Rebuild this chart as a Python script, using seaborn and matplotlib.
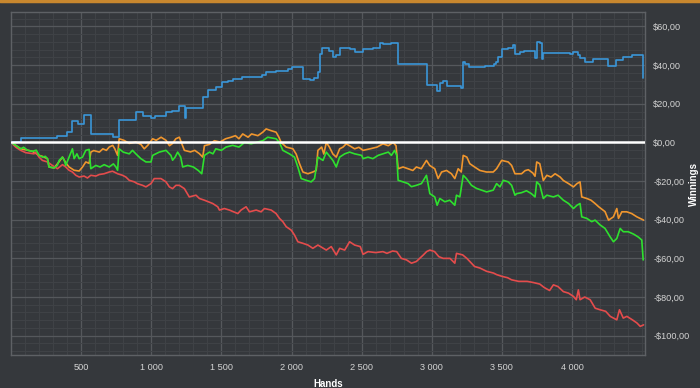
import pandas as pd
import numpy as np
import matplotlib
matplotlib.use('Agg')
import matplotlib.pyplot as plt
import matplotlib.ticker as mticker
import seaborn as sns

# values: hands played vs winnings ($)
blue_hands = [0, 69, 331, 400, 438, 480, 521, 569, 724, 767, 890, 940, 998, 1030, 1105, 1150, 1200, 1240, 1250,
              1367, 1402, 1460, 1505, 1550, 1581, 1650, 1748, 1790, 1820, 1890, 1974, 2000, 2081, 2130, 2160,
              2188, 2200, 2219, 2270, 2295, 2320, 2343, 2414, 2450, 2509, 2580, 2629, 2650, 2710, 2760, 2967,
              3038, 3057, 3080, 3105, 3205, 3219, 3240, 3267, 3379, 3440, 3460, 3474, 3498, 3540, 3581, 3593,
              3630, 3660, 3736, 3747, 3770, 3783, 3795, 3986, 4010, 4040, 4057, 4093, 4152, 4259, 4312, 4362,
              4400, 4426, 4497, 4509]
blue_vals = [0, 2.1, 3.4, 5.2, 11.2, 9.5, 14.3, 4.3, 2.9, 11.5, 15.6, 13.5, 12.9, 13.8, 15.9, 16.5, 18.9, 12.9, 17.8,
             23.4, 27.1, 28.5, 31.1, 32, 33, 34, 34, 35, 36.3, 36.8, 38, 38.8, 32.8, 32.3, 33.5,
             36.6, 45.7, 48.8, 47.5, 44, 45, 49.1, 48.3, 46.6, 48.3, 49.1, 51.7, 50.8, 51.7, 40.5, 29.7,
             26.8, 31, 31.8, 29.3, 28, 41.4, 40.5, 38.8, 39.7, 40.5, 41.4, 44.3, 48.6, 49.1, 50.3, 45.7,
             46.6, 47.5, 43.8, 52.2, 51.7, 43, 46.4, 45.8, 46.6, 45.5, 43.8, 41.4, 43.1, 39.7, 42.7, 44.3,
             44.0, 45.4, 45.4, 33.2]

orange_hands = [0, 33, 69, 117, 152, 200, 224, 260, 271, 307, 343, 367, 390, 414, 450, 486, 510, 533, 557, 569,
                590, 630, 655, 680, 700, 725, 740, 760, 771, 805, 843, 890, 926, 950, 975, 1010, 1035, 1070, 1105,
                1130, 1152, 1175, 1200, 1236, 1280, 1310, 1343, 1367, 1379, 1415, 1450, 1490, 1530, 1569, 1600,
                1625, 1652, 1690, 1715, 1760, 1795, 1819, 1850, 1890, 1910, 1926, 1962, 2010, 2033, 2057, 2081,
                2117, 2152, 2176, 2188, 2215, 2230, 2248, 2270, 2295, 2319, 2343, 2367, 2390, 2414, 2450, 2480,
                2510, 2560, 2610, 2652, 2690, 2724, 2745, 2760, 2795, 2831, 2865, 2890, 2925, 2962, 2985, 3021,
                3045, 3070, 3105, 3140, 3164, 3188, 3210, 3224, 3250, 3271, 3305, 3343, 3390, 3438, 3462, 3498,
                3545, 3569, 3593, 3640, 3665, 3688, 3720, 3736, 3748, 3770, 3795, 3820, 3850, 3879, 3915, 3938,
                3975, 4010, 4035, 4057, 4069, 4105, 4135, 4164, 4190, 4235, 4260, 4295, 4319, 4331, 4355, 4390,
                4425, 4462, 4485, 4510]
orange_vals = [0, -1.5, -3.3, -4.0, -4.6, -6.7, -7.2, -8.4, -12.7, -13.2, -10, -7.6, -10.5, -12.7, -14.4, -14.8,
               -12.7, -10.1, -10.8, -5.0, -4.2, -5.0, -3.3, -4.1, -2.4, -1.5, -3.3, -6.7, 1.9, 1.1, -0.5, 0.2,
               -1.0, -3.3, -1.5, 1.9, 1.1, 2.7, 1.1, -1.7, -0.5, 1.9, 2.7, -4.1, -4.9, -4.1, -5.8, -7.6, -1.7,
               -1.0, 0.9, 0.2, 1.9, 2.7, 3.5, 1.9, 4.4, 2.7, 4.4, 3.5, 5.3, 7.0, 6.2, 5.3, 2.7, 0, -2.4, -3.3,
               -6, -11, -15.3, -16.2, -15.3, -14.5, -4.1, -2.4, -6, 0, -2.4, -6, -7.6, -3.3, -2.4, -0.7, -1.7,
               -3.3, -2.5, -4.1, -3.3, -2.4, -0.7, -1.7, 0, -1.7, -13.6, -12.7, -13.6, -14.5, -12.7, -13.6, -9.3,
               -11.9, -13.6, -18.7, -15.3, -14.5, -16.2, -18.7, -13.6, -15.3, -6.7, -7.6, -11, -12.7, -14.5,
               -15.3, -15.3, -13.6, -9.3, -10.1, -11.9, -16.2, -16.2, -14.6, -14.1, -15.8, -17.5, -10.1, -11,
               -19.7, -17, -17.9, -16.2, -17.9, -19.7, -21.3, -23, -21.3, -20.4, -28.2, -29, -29.9, -31.6, -33.3,
               -35.8, -40.2, -38.5, -34.2, -39.3, -35.9, -35.9, -36.8, -38.5, -39.3, -40.2]

green_hands = [0, 33, 69, 90, 117, 152, 180, 200, 224, 245, 260, 271, 307, 330, 343, 367, 380, 390, 414, 438, 450,
               470, 486, 510, 533, 557, 569, 605, 635, 664, 700, 730, 748, 760, 771, 800, 843, 866, 890, 926, 962,
               998, 1010, 1057, 1105, 1140, 1152, 1170, 1188, 1210, 1224, 1260, 1300, 1335, 1360, 1379, 1415,
               1440, 1460, 1500, 1533, 1580, 1625, 1665, 1712, 1748, 1795, 1830, 1890, 1914, 1938, 1985, 2021,
               2045, 2069, 2105, 2140, 2164, 2188, 2224, 2248, 2295, 2319, 2343, 2379, 2414, 2450, 2500, 2510,
               2545, 2580, 2617, 2652, 2690, 2712, 2735, 2750, 2760, 2795, 2831, 2855, 2890, 2926, 2962, 2986,
               3021, 3038, 3057, 3093, 3128, 3164, 3176, 3200, 3224, 3247, 3283, 3319, 3355, 3391, 3438, 3462,
               3486, 3510, 3545, 3569, 3593, 3605, 3640, 3675, 3710, 3736, 3748, 3770, 3795, 3820, 3867, 3900,
               3938, 3975, 4010, 4035, 4057, 4069, 4105, 4140, 4164, 4200, 4235, 4271, 4295, 4319, 4343, 4365,
               4400, 4440, 4473, 4497, 4507]
green_vals = [0, -1.5, -3.3, -2.5, -4.0, -4.6, -4.0, -6.7, -7.6, -7.2, -8.4, -12.7, -13.2, -11.9, -9.3, -7.6, -9.3,
              -11.9, -7.6, -3.3, -8.4, -5.9, -8.4, -7.6, -4.1, -3.6, -13.6, -11.9, -12.7, -11.5, -12.7, -11.1,
              -12.7, -14.4, -3.3, -5.0, -5.9, -4.1, -5.9, -8.4, -10.1, -10.1, -6.7, -5.0, -4.1, -6.7, -9.2, -7.6,
              -5.0, -7.6, -12.7, -11.9, -12.7, -14.5, -16.2, -6.7, -5.0, -5.9, -3.3, -4.1, -2.4, -1.5, -2.4, 0,
              -0.7, 0, 0.9, 2.7, 1.9, 0, -4.1, -5.9, -7.6, -12.7, -18.7, -19.6, -20.4, -18.7, -7.6, -9.3, -5.0,
              -9.3, -12.7, -7.6, -5.9, -5.0, -5.9, -6.7, -8.4, -7.6, -8.4, -6.7, -5.9, -5.0, -6.7, -4.1, -6.7,
              -19.6, -20.4, -21.3, -22.9, -22.2, -21.3, -17, -26.5, -28.2, -32.5, -29, -30.7, -29.9, -32.5, -27.3,
              -28.2, -17, -18.7, -22.2, -23.8, -24.7, -25.6, -24.7, -21.3, -23, -19.6, -20.4, -22.2, -27.3, -26.5,
              -26, -25, -26.5, -28.2, -20.4, -22, -29, -27.3, -28.2, -27.3, -29.9, -31.6, -34.2, -32.5, -31.6,
              -38.5, -39.3, -41, -40.2, -42.7, -44.5, -48.8, -51.4, -49.7, -44.5, -46.2, -46.2, -47.5, -49,
              -50.5, -60.8]

red_hands = [0, 33, 69, 105, 164, 176, 200, 224, 260, 295, 331, 367, 390, 414, 438, 462, 486, 521, 545, 569, 605,
             629, 664, 700, 724, 760, 795, 819, 843, 879, 900, 938, 962, 998, 1021, 1069, 1105, 1129, 1152, 1176,
             1200, 1236, 1271, 1319, 1343, 1379, 1438, 1474, 1486, 1521, 1557, 1617, 1640, 1676, 1700, 1748,
             1783, 1807, 1855, 1890, 1914, 1938, 1962, 1998, 2021, 2045, 2081, 2117, 2152, 2188, 2248, 2283,
             2319, 2343, 2379, 2414, 2450, 2490, 2510, 2545, 2600, 2652, 2680, 2720, 2750, 2783, 2820, 2855,
             2890, 2915, 2940, 2963, 2986, 3020, 3050, 3081, 3130, 3164, 3176, 3220, 3250, 3271, 3305, 3343,
             3391, 3440, 3462, 3500, 3540, 3569, 3620, 3680, 3724, 3770, 3800, 3819, 3840, 3867, 3900, 3938,
             3975, 4010, 4030, 4045, 4057, 4090, 4129, 4165, 4200, 4240, 4272, 4319, 4338, 4365, 4391, 4430,
             4462, 4486, 4510]
red_vals = [0, -2.4, -4.1, -5.3, -5.9, -5.0, -7.6, -9.3, -10.1, -11.9, -13.6, -11.5, -12.7, -14.4, -15.3, -17,
            -17.9, -17.4, -18.4, -17, -17.4, -16.6, -16.2, -15.3, -14.9, -16.2, -17, -17.9, -19.6, -20.4, -21.3,
            -22.2, -23, -21.3, -18.7, -18.7, -20.4, -23, -23.9, -22.2, -22.2, -23.9, -28.2, -27.3, -29.0, -29.9,
            -31.6, -33.3, -35.0, -34.2, -35.0, -36.8, -35.0, -33.3, -35.9, -35.0, -35.9, -34.2, -35.0, -36.8,
            -39.3, -41.0, -43.6, -45.4, -47.9, -51.4, -52.2, -53.1, -54.8, -53.1, -55.7, -53.9, -58.2, -54.8,
            -55.7, -51.4, -53.1, -53.9, -57.9, -56.5, -57, -56.5, -57.4, -56.2, -56.5, -60, -60.8, -62.5, -61.6,
            -59.9, -58.2, -56.5, -55.7, -56.5, -59.1, -60, -60, -62.5, -57.4, -58.2, -60, -61.6, -64.2, -65,
            -66.7, -67.6, -68.4, -69.3, -70, -71.1, -71.9, -71.9, -72.5, -73.3, -75, -75.8, -76.6, -73.7, -74.6,
            -77.2, -78, -79.7, -81.4, -76.3, -81.4, -80, -81.4, -85.8, -86.6, -87.4, -90, -91.8, -86.6, -90.9,
            -90, -91.8, -93.4, -95.2, -94.4]

colors = {'blue': '#3a96d8', 'orange': '#f0962e', 'red': '#e44c4c', 'green': '#2ee02e'}

blue_df = pd.DataFrame({'hands': blue_hands, 'winnings': blue_vals, 'player': 'blue'})
others = pd.concat([
    pd.DataFrame({'hands': orange_hands, 'winnings': orange_vals, 'player': 'orange'}),
    pd.DataFrame({'hands': red_hands, 'winnings': red_vals, 'player': 'red'}),
    pd.DataFrame({'hands': green_hands, 'winnings': green_vals, 'player': 'green'}),
])

bg = '#35383c'
sns.set_style('dark', {'axes.facecolor': bg, 'figure.facecolor': bg})
plt.rcParams['font.family'] = ['Liberation Sans', 'DejaVu Sans']

fig = plt.figure(figsize=(7, 3.88), dpi=100)
ax = fig.add_axes([11 / 700, 33 / 388, 634 / 700, 343 / 388])
ax.set_facecolor(bg)

sns.lineplot(data=blue_df, x='hands', y='winnings', color=colors['blue'], drawstyle='steps-post',
             linewidth=1.2, estimator=None, legend=False, ax=ax)
sns.lineplot(data=others, x='hands', y='winnings', hue='player', hue_order=['orange', 'red', 'green'],
             palette=colors, linewidth=1.2, estimator=None, legend=False, ax=ax)
ax.axhline(0, color='white', linewidth=1.8, zorder=5)

ax.set_xlim(0, 4520)
ax.set_ylim(-110, 67.5)

ax.xaxis.set_major_locator(mticker.FixedLocator([500, 1000, 1500, 2000, 2500, 3000, 3500, 4000]))
ax.xaxis.set_minor_locator(mticker.MultipleLocator(100))
ax.yaxis.set_major_locator(mticker.MultipleLocator(20))
ax.yaxis.set_minor_locator(mticker.MultipleLocator(4))


def money(v, pos):
    s = '{:.2f}'.format(abs(v)).replace('.', ',')
    return ('-$' if v < 0 else '$') + s


def hands_fmt(v, pos):
    return '{:,}'.format(int(v)).replace(',', ' ')


ax.yaxis.set_major_formatter(mticker.FuncFormatter(money))
ax.xaxis.set_major_formatter(mticker.FuncFormatter(hands_fmt))
ax.yaxis.tick_right()
ax.yaxis.set_label_position('right')

ax.grid(which='major', color='#55585c', linewidth=0.9)
ax.grid(which='minor', color='#404347', linewidth=0.7)
ax.set_axisbelow(True)
ax.tick_params(which='both', length=0, colors='#d4d4d4', labelsize=6.6)
ax.tick_params(axis='y', pad=6)
ax.tick_params(axis='x', pad=6)
for sp in ax.spines.values():
    sp.set_color('#5e6165')
    sp.set_linewidth(1)

ax.set_xlabel('Hands', color='white', fontsize=7, fontweight='bold', labelpad=5)
ax.set_ylabel('Winnings', color='white', fontsize=7, fontweight='bold')
ax.yaxis.set_label_coords(1.069, 0.5)

# orange strip at the very top of the panel
fig.add_artist(plt.Line2D([0, 1], [0.997, 0.997], color='#c8872e', linewidth=2.5, transform=fig.transFigure))

fig.savefig('out.png', dpi=100, facecolor=bg)
